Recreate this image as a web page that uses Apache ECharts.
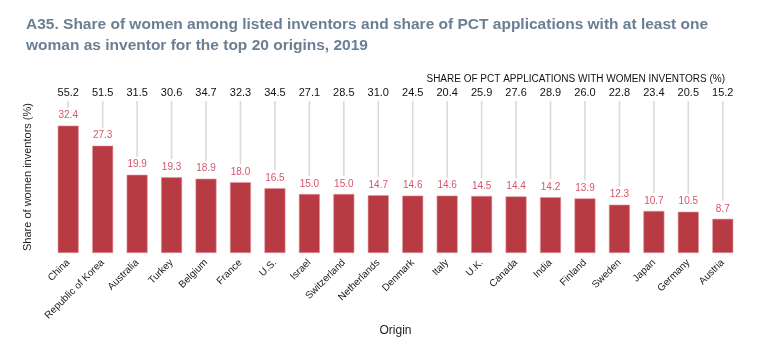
<!DOCTYPE html>
<html><head><meta charset="utf-8">
<script src="https://cdn.jsdelivr.net/npm/echarts@6/dist/echarts.min.js"></script>
<style>html,body{margin:0;padding:0;background:#fff}#c{width:763px;height:355px}</style>
</head><body><div id="c"></div>
<script>
const origins = ["China","Republic of Korea","Australia","Turkey","Belgium","France","U.S.","Israel","Switzerland","Netherlands","Denmark","Italy","U.K.","Canada","India","Finland","Sweden","Japan","Germany","Austria"];
const womenInventorShare = [32.4,27.3,19.9,19.3,18.9,18.0,16.5,15.0,15.0,14.7,14.6,14.6,14.5,14.4,14.2,13.9,12.3,10.7,10.5,8.7];
const pctAppShare = [55.2,51.5,31.5,30.6,34.7,32.3,34.5,27.1,28.5,31.0,24.5,20.4,25.9,27.6,28.9,26.0,22.8,23.4,20.5,15.2];
const yMax = 38.65;
const FF = '"Liberation Sans", Arial, sans-serif';

const chart = echarts.init(document.getElementById('c'));
chart.setOption({
  animation: false,
  title: [{
    text: 'A35. Share of women among listed inventors and share of PCT applications with at least one\nwoman as inventor for the top 20 origins, 2019',
    left: 21, top: 9,
    textStyle: {fontFamily: FF, fontSize: 15.5, fontWeight: 'bold', color: '#6a7f93', lineHeight: 21}
  }, {
    text: 'SHARE OF PCT APPLICATIONS WITH WOMEN INVENTORS (%)',
    right: 33, top: 69,
    textStyle: {fontFamily: FF, fontSize: 10, fontWeight: 'normal', color: '#111'}
  }],
  grid: {left: 51, right: 23, top: 101, bottom: 102},
  xAxis: [{
    type: 'category', data: origins, position: 'bottom',
    axisLine: {show: false}, axisTick: {show: false},
    axisLabel: {rotate: 45, interval: 0, fontSize: 10, color: '#1a1a1a', margin: 8, fontFamily: FF},
    name: 'Origin', nameLocation: 'middle', nameGap: 72,
    nameTextStyle: {fontSize: 12, color: '#222', fontFamily: FF}
  }, {
    type: 'category', data: pctAppShare.map(v => v.toFixed(1)), position: 'top',
    axisLine: {show: false}, axisTick: {show: false},
    axisLabel: {interval: 0, fontSize: 11, color: '#111', margin: 3, fontFamily: FF}
  }],
  yAxis: {
    type: 'value', min: 0, max: yMax,
    axisLine: {show: false}, axisTick: {show: false}, axisLabel: {show: false}, splitLine: {show: false},
    name: 'Share of women inventors (%)', nameLocation: 'middle', nameGap: 18,
    nameTextStyle: {fontSize: 11, color: '#222', fontFamily: FF}
  },
  series: [{
    type: 'custom', xAxisIndex: 0,
    data: womenInventorShare.map((v, i) => [i, v]),
    renderItem: function (params, api) {
      const p1 = api.coord([api.value(0), api.value(1)]);
      const p0 = api.coord([api.value(0), yMax]);
      return {type: 'line', shape: {x1: p1[0], y1: p1[1] - 18, x2: p0[0], y2: p0[1]}, style: {stroke: '#dadada', lineWidth: 1.6}};
    },
    z: 1
  }, {
    type: 'bar', xAxisIndex: 0, data: womenInventorShare, barCategoryGap: '39%',
    itemStyle: {color: '#b83a42', borderColor: '#e29aa0', borderWidth: 0.6},
    label: {show: true, position: 'top', distance: 5, fontSize: 10, color: '#d4566a', formatter: p => p.value.toFixed(1), fontFamily: FF},
    z: 2
  }]
});
</script></body></html>
